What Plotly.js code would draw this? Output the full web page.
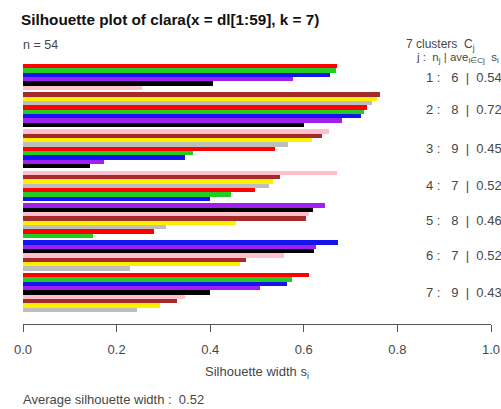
<!DOCTYPE html>
<html>
<head>
<meta charset="utf-8">
<script src="https://cdn.plot.ly/plotly-3.0.1.min.js"></script>
<style>
  html, body { margin: 0; padding: 0; background: #ffffff; }
  #chart { width: 501px; height: 409px; }
</style>
</head>
<body>
<div id="chart"></div>
<script>
// Silhouette widths s(i) of each observation, grouped by cluster,
// sorted from widest to narrowest inside every cluster.
const cluster1 = [0.670, 0.668, 0.655, 0.577, 0.407, 0.254];
const cluster2 = [0.762, 0.756, 0.745, 0.736, 0.728, 0.723, 0.682, 0.600];
const cluster3 = [0.653, 0.639, 0.617, 0.567, 0.539, 0.363, 0.347, 0.174, 0.144];
const cluster4 = [0.670, 0.550, 0.535, 0.525, 0.495, 0.445, 0.400];
const cluster5 = [0.645, 0.620, 0.612, 0.605, 0.455, 0.305, 0.280, 0.150];
const cluster6 = [0.674, 0.625, 0.621, 0.557, 0.477, 0.464, 0.228];
const cluster7 = [0.612, 0.575, 0.565, 0.507, 0.400, 0.347, 0.329, 0.293, 0.244];
const clusters = [cluster1, cluster2, cluster3, cluster4, cluster5, cluster6, cluster7];

// Bar colours, recycled over all observations in plotting order
const barPalette = ["#FF0000", "#22CC22", "#1414F0", "#A020F0", "#000000",
                    "#FFC0CB", "#A52A2A", "#FFF000", "#BEBEBE"];

const xTicks = [0, 0.2, 0.4, 0.6, 0.8, 1.0];
const xTickText = ["0.0", "0.2", "0.4", "0.6", "0.8", "1.0"];

// Every bar is one unit tall; clusters are separated by half a unit
const GAP = 0.5;
const FONT = "Liberation Sans, Arial, Helvetica, sans-serif";
const TXT = "#474747";
const SP = "\u00A0";

const xs = [], ys = [], cols = [];
const clusterCentres = [], clusterSizes = [], clusterMeans = [];
let obs = 0, total = 0;
clusters.forEach((vals, c) => {
  const start = obs + GAP * c;
  vals.forEach((v, i) => {
    xs.push(v);
    ys.push(start + i + 0.5);
    cols.push(barPalette[obs % barPalette.length]);
    obs += 1;
    total += v;
  });
  clusterCentres.push(start + vals.length / 2);
  clusterSizes.push(vals.length);
  clusterMeans.push(vals.reduce((a, b) => a + b, 0) / vals.length);
});
const nObs = obs;
const yEnd = nObs + GAP * (clusters.length - 1);
const avgWidth = total / nObs;

// Plot box in pixels
const W = 501, H = 409;
const M = { l: 23, r: 10, t: 52, b: 85 };
const plotH = H - M.t - M.b;
const pyToPaper = py => (H - M.b - py) / plotH;
const pxToPaper = px => (px - M.l) / (W - M.l - M.r);
const pad = 2.76;

const trace = {
  type: "bar",
  orientation: "h",
  x: xs,
  y: ys,
  width: 1,
  marker: { color: cols, line: { width: 0 } },
  hoverinfo: "skip"
};

const annotations = [
  { text: "n = " + nObs, xref: "paper", yref: "paper",
    x: pxToPaper(21), y: pyToPaper(45), xanchor: "left", yanchor: "middle",
    showarrow: false, font: { family: FONT, size: 12.5, color: TXT } },
  { text: clusters.length + SP + "clusters" + SP + SP + "C<sub>j</sub>", xref: "paper", yref: "paper",
    x: pxToPaper(404), y: pyToPaper(45), xanchor: "left", yanchor: "middle",
    showarrow: false, font: { family: FONT, size: 12, color: TXT } },
  { text: "j" + SP + ":" + SP + SP + "n<sub>j</sub>" + SP + "|" + SP + "ave<sub>i∈Cj</sub>" + SP + SP + "s<sub>i</sub>",
    xref: "paper", yref: "paper",
    x: pxToPaper(414), y: pyToPaper(58), xanchor: "left", yanchor: "middle",
    showarrow: false, font: { family: FONT, size: 11.5, color: TXT } },
  { text: "Average silhouette width :" + SP + SP + avgWidth.toFixed(2), xref: "paper", yref: "paper",
    x: pxToPaper(21), y: pyToPaper(399), xanchor: "left", yanchor: "middle",
    showarrow: false, font: { family: FONT, size: 13, color: TXT } }
];

clusterCentres.forEach((yc, c) => {
  annotations.push({
    text: (c + 1) + SP + ":" + SP + SP + SP + clusterSizes[c] + SP + SP + "|" + SP + SP + clusterMeans[c].toFixed(2),
    xref: "paper", yref: "y",
    x: pxToPaper(424), y: yc, xanchor: "left", yanchor: "middle",
    showarrow: false, font: { family: FONT, size: 13, color: TXT }
  });
});

const layout = {
  width: W, height: H,
  margin: M,
  paper_bgcolor: "#ffffff",
  plot_bgcolor: "#ffffff",
  showlegend: false,
  bargap: 0,
  title: {
    text: "<b>Silhouette plot of clara(x = dl[1:59], k = 7)</b>",
    xref: "container", yref: "container",
    x: 21 / W, y: 1 - 20 / H, xanchor: "left", yanchor: "middle",
    font: { family: FONT, size: 15.3, color: "#111111" }
  },
  xaxis: {
    range: [0, 1],
    tickvals: xTicks,
    ticktext: xTickText,
    ticks: "outside",
    ticklen: 7,
    tickwidth: 1,
    tickcolor: "#555555",
    showline: true,
    linecolor: "#555555",
    linewidth: 1,
    showgrid: false,
    zeroline: false,
    ticklabelstandoff: 6,
    tickfont: { family: FONT, size: 13, color: TXT },
    title: {
      text: "Silhouette width s<sub>i</sub>",
      standoff: 11,
      font: { family: FONT, size: 13, color: TXT }
    },
    fixedrange: true
  },
  yaxis: {
    range: [yEnd + pad, -pad],
    visible: false,
    fixedrange: true
  },
  annotations: annotations
};

Plotly.newPlot("chart", [trace], layout, { displayModeBar: false, staticPlot: true });
</script>
</body>
</html>
